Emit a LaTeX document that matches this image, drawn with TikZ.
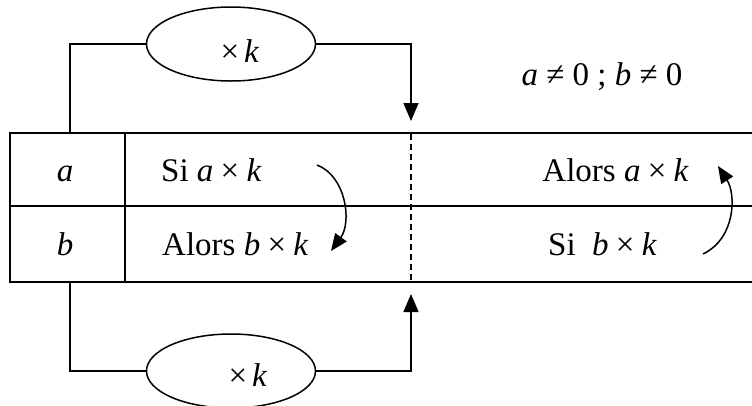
\documentclass[tikz,border=0pt]{standalone}
\usepackage{fontspec}
\setmainfont{Liberation Serif}
\usetikzlibrary{arrows.meta,shapes.geometric}
\newcommand{\tmul}{\hspace{0.22em}×\hspace{0.22em}}
\newcommand{\tneq}{\hspace{0.25em}≠\hspace{0.25em}}
\begin{document}
\begin{tikzpicture}[x=1pt,y=-1pt, font=\fontsize{33}{38}\selectfont,
  tbl/.style={line width=1.7pt},
  conn/.style={line width=1.5pt},
  oval/.style={ellipse,draw,line width=1.5pt,minimum width=169pt,minimum height=74pt,inner sep=0pt},
  tip/.style={-{Triangle[width=15pt,length=18pt]}},
  ctip/.style={-{Triangle[width=14pt,length=17pt]}},
  txt/.style={inner sep=0pt, anchor=base west},
  ctxt/.style={inner sep=0pt, anchor=base}]
\useasboundingbox (0,0) rectangle (752,405);
% table
\draw[tbl] (752,133) -- (10,133) -- (10,282) -- (752,282);
\draw[tbl] (10,206) -- (752,206);
\draw[tbl] (125,133) -- (125,282);
\draw[line width=1.3pt, dash pattern=on 6pt off 4pt] (411,134) -- (411,281);
% cell texts
\node[ctxt] (ta) at (65,181) {\textit{a}};
\node[ctxt] (tb) at (65,255) {\textit{b}};
\node[txt] (s1) at (161,181) {Si \textit{a}\tmul\textit{k}};
\node[txt] (a2) at (162,255) {Alors \textit{b}\tmul\textit{k}};
\node[inner sep=0pt, anchor=base east] (a1) at (689,181) {Alors \textit{a}\tmul\textit{k}};
\node[txt] (s2) at (548,255) {Si\hspace{0.5em}\textit{b}\tmul\textit{k}};
% condition
\node[ctxt] (cond) at (602,85) {\textit{a}\tneq 0 ; \textit{b}\tneq 0};
% ellipses
\node[oval] (e1) at (231,44) {};
\node[ctxt] (k1) at (240,62) {×\hspace{0.15em}\textit{k}};
\node[oval] (e2) at (231,371) {};
\node[ctxt] (k2) at (248,386) {×\hspace{0.15em}\textit{k}};
% connectors
\coordinate (tl) at (70,133);
\coordinate (tt) at (411,121);
\coordinate (bl) at (70,282);
\coordinate (bt) at (411,294);
\draw[conn] (tl) |- (e1.west);
\draw[conn,tip] (e1.east) -| (tt);
\draw[conn] (bl) |- (e2.west);
\draw[conn,tip] (e2.east) -| (bt);
% curved arrows
\coordinate (c1s) at (317,165);
\coordinate (c1e) at (331,251);
\coordinate (c2s) at (703,254);
\coordinate (c2e) at (718,166);
\draw[conn,ctip] (c1s) .. controls (346,176) and (352,222) .. (c1e);
\draw[conn,ctip] (c2s) .. controls (736,238) and (736,194) .. (c2e);
\end{tikzpicture}
\end{document}
